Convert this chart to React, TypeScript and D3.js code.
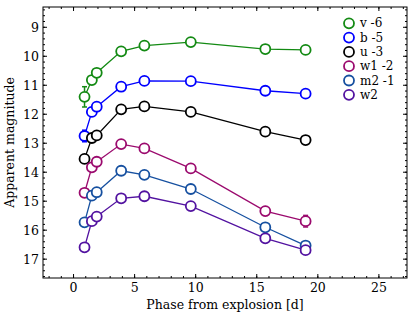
import React from "react";
import * as d3 from "d3";

const phases = [0.9, 1.5, 1.9, 3.9, 5.8, 9.6, 15.7, 19.0];
const bandNames = ["v -6", "b -5", "u -3", "w1 -2", "m2 -1", "w2"];
const bandColors = ["#138a13", "#0000ff", "#000000", "#9b0a6e", "#1650a0", "#5212a0"];
const vMag = [11.4, 10.82, 10.57, 9.83, 9.63, 9.51, 9.75, 9.78];
const bMag = [12.75, 11.92, 11.74, 11.05, 10.85, 10.86, 11.19, 11.29];
const uMag = [13.54, 12.82, 12.73, 11.83, 11.73, 11.92, 12.6, 12.89];
const w1Mag = [14.71, 13.83, 13.64, 13.03, 13.18, 13.87, 15.34, 15.69];
const m2Mag = [15.73, 14.81, 14.69, 13.95, 14.09, 14.58, 15.9, 16.53];
const w2Mag = [16.59, 15.69, 15.53, 14.9, 14.83, 15.17, 16.28, 16.69];
const vErr = [0.35, 0.1, 0.12, 0.03, 0.03, 0.03, 0.03, 0.03];
const bErr = [0.2, 0.05, 0.05, 0.03, 0.03, 0.03, 0.03, 0.03];
const uErr = [0.05, 0.05, 0.05, 0.03, 0.03, 0.03, 0.03, 0.03];
const w1Err = [0.05, 0.05, 0.05, 0.03, 0.03, 0.03, 0.15, 0.2];
const m2Err = [0.05, 0.05, 0.05, 0.03, 0.03, 0.03, 0.05, 0.05];
const w2Err = [0.05, 0.05, 0.05, 0.03, 0.03, 0.03, 0.05, 0.05];
const xTicks = [0, 5, 10, 15, 20, 25];
const yTicks = [9, 10, 11, 12, 13, 14, 15, 16, 17];

const mags = [vMag, bMag, uMag, w1Mag, m2Mag, w2Mag];
const errs = [vErr, bErr, uErr, w1Err, m2Err, w2Err];

export default function App() {
  const W = 415, H = 318;
  const L = 43, R = 407, T = 7, B = 278;
  const x = d3.scaleLinear().domain([-2.5, 27.3]).range([L, R]);
  const y = d3.scaleLinear().domain([8.3, 17.65]).range([T, B]);
  const font = "DejaVu Serif";
  const xMinor = d3.range(-2, 28, 1);
  const yMinor = d3.range(8.4, 17.65, 0.2);
  const line = d3.line<[number, number]>().x(d => x(d[0])).y(d => y(d[1]));
  return (
    <svg width={W} height={H} style={{ position: "absolute", left: 0, top: 0, background: "#fff" }}>
      {mags.map((m, i) => {
        const pts = phases.map((p, j) => [p, m[j]] as [number, number]);
        const c = bandColors[i];
        return (
          <g key={i}>
            <path d={line(pts) || ""} fill="none" stroke={c} strokeWidth={1.3} />
            {pts.map((p, j) => {
              const e = errs[i][j];
              return (
                <g key={j}>
                  <line x1={x(p[0])} x2={x(p[0])} y1={y(p[1] - e)} y2={y(p[1] + e)} stroke={c} strokeWidth={1.5} />
                  <line x1={x(p[0]) - 2.5} x2={x(p[0]) + 2.5} y1={y(p[1] - e)} y2={y(p[1] - e)} stroke={c} strokeWidth={1.5} />
                  <line x1={x(p[0]) - 2.5} x2={x(p[0]) + 2.5} y1={y(p[1] + e)} y2={y(p[1] + e)} stroke={c} strokeWidth={1.5} />
                  <circle cx={x(p[0])} cy={y(p[1])} r={5} fill="#fff" stroke={c} strokeWidth={1.8} />
                </g>
              );
            })}
          </g>
        );
      })}
      <rect x={L} y={T} width={R - L} height={B - T} fill="none" stroke="#000" strokeWidth={1} />
      {xMinor.map(t => (
        <g key={"xm" + t}>
          <line x1={x(t)} x2={x(t)} y1={B} y2={B - 2} stroke="#000" />
          <line x1={x(t)} x2={x(t)} y1={T} y2={T + 2} stroke="#000" />
        </g>
      ))}
      {yMinor.map(t => (
        <g key={"ym" + t}>
          <line x1={L} x2={L + 2} y1={y(t)} y2={y(t)} stroke="#000" />
          <line x1={R} x2={R - 2} y1={y(t)} y2={y(t)} stroke="#000" />
        </g>
      ))}
      {xTicks.map(t => (
        <g key={"x" + t}>
          <line x1={x(t)} x2={x(t)} y1={B} y2={B - 4} stroke="#000" />
          <line x1={x(t)} x2={x(t)} y1={T} y2={T + 4} stroke="#000" />
          <text x={x(t)} y={B + 14} textAnchor="middle" fontFamily={font} fontSize={12.5}>{t}</text>
        </g>
      ))}
      {yTicks.map(t => (
        <g key={"y" + t}>
          <line x1={L} x2={L + 4} y1={y(t)} y2={y(t)} stroke="#000" />
          <line x1={R} x2={R - 4} y1={y(t)} y2={y(t)} stroke="#000" />
          <text x={L - 4} y={y(t) + 4.5} textAnchor="end" fontFamily={font} fontSize={12.5}>{t}</text>
        </g>
      ))}
      <text x={(L + R) / 2} y={309} textAnchor="middle" fontFamily={font} fontSize={12.5}>Phase from explosion [d]</text>
      <text transform={`translate(14,${(T + B) / 2}) rotate(-90)`} textAnchor="middle" fontFamily={font} fontSize={12.5}>Apparent magnitude</text>
      {bandNames.map((n, i) => (
        <g key={n}>
          <circle cx={349} cy={23.3 + i * 14.3} r={5} fill="#fff" stroke={bandColors[i]} strokeWidth={1.8} />
          <text x={360} y={23.3 + i * 14.3 + 4} fontFamily={font} fontSize={12}>{n}</text>
        </g>
      ))}
    </svg>
  );
}
